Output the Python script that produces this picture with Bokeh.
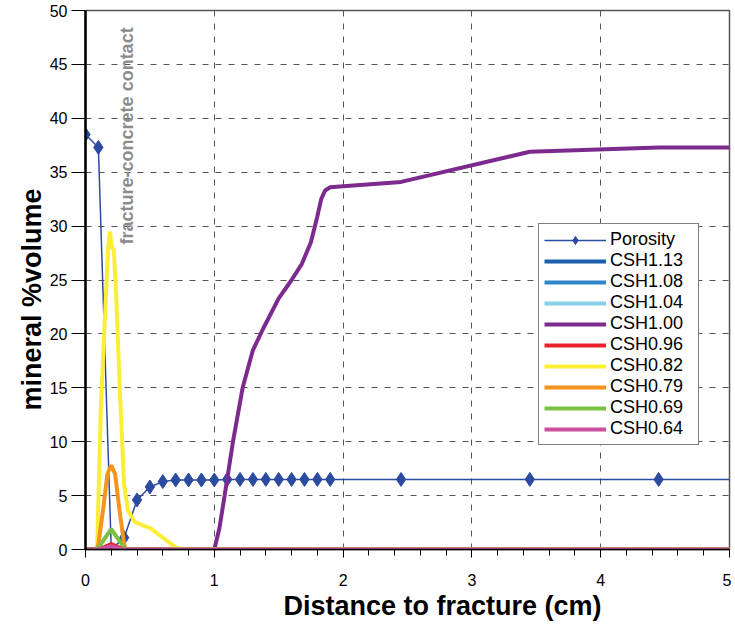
from bokeh.plotting import figure
from bokeh.models import Range1d, Legend, LegendItem, FixedTicker, Label, Title
from bokeh.embed import file_html
from bokeh.resources import INLINE

FONT = "Liberation Sans"

# ---------------- data ----------------
x_ticks = [0, 1, 2, 3, 4, 5]
y_ticks = [0, 5, 10, 15, 20, 25, 30, 35, 40, 45, 50]

por_x = [0, 0.1, 0.2, 0.3, 0.4, 0.5, 0.6, 0.7, 0.8, 0.9, 1.0, 1.1, 1.2, 1.3,
         1.4, 1.5, 1.6, 1.7, 1.8, 1.9, 2.45, 3.45, 4.45, 5.0]
por_y = [38.5, 37.3, 0.0, 1.1, 4.6, 5.8, 6.3, 6.45, 6.45, 6.45, 6.45, 6.5, 6.5, 6.5,
         6.5, 6.5, 6.5, 6.5, 6.5, 6.5, 6.5, 6.5, 6.5, 6.5]

zero_x = [0, 5]
zero_y = [0, 0]

csh100_x = [0, 0.9, 0.98, 1.0, 1.04, 1.08, 1.145, 1.22, 1.3, 1.38, 1.5, 1.6, 1.68,
            1.75, 1.8, 1.83, 1.86, 1.9, 2.0, 2.45, 3.45, 4.45, 5.0]
csh100_y = [0, 0, -0.4, 0, 2.0, 5.0, 10.0, 15.0, 18.5, 20.5, 23.3, 25.0, 26.5,
            28.5, 30.9, 32.5, 33.3, 33.6, 33.7, 34.1, 36.9, 37.3, 37.3]

csh096_x = [0, 0.1, 0.2, 0.3, 5]
csh096_y = [0, 0, 0.5, 0, 0]

csh082_x = [0, 0.05, 0.09, 0.12, 0.175, 0.19, 0.205, 0.22, 0.24, 0.27, 0.3, 0.33,
            0.38, 0.45, 0.5, 0.6, 0.7, 0.75, 5]
csh082_y = [0, -0.3, 0, 13.5, 27.8, 29.5, 28.0, 27.8, 23.0, 13.8, 6.0, 3.6,
            2.6, 2.2, 2.0, 1.1, 0.2, 0, 0]

csh079_x = [0, 0.05, 0.08, 0.1, 0.14, 0.17, 0.2, 0.23, 0.26, 0.3, 0.32, 0.36, 5]
csh079_y = [0, 0, -0.3, 0.5, 4.0, 7.0, 7.8, 7.0, 4.0, 0.5, -0.3, 0, 0]

csh069_x = [0, 0.09, 0.2, 0.31, 5]
csh069_y = [0, 0, 1.9, 0, 0]

csh064_x = [0, 0.1, 0.2, 0.3, 5]
csh064_y = [0, 0, 0.3, 0, 0]

series = [
    ("CSH1.13", zero_x, zero_y, "#1B5EAB"),
    ("CSH1.08", zero_x, zero_y, "#2E86C8"),
    ("CSH1.04", zero_x, zero_y, "#86D0E8"),
    ("CSH1.00", csh100_x, csh100_y, "#7D2A8F"),
    ("CSH0.96", csh096_x, csh096_y, "#E8212B"),
    ("CSH0.82", csh082_x, csh082_y, "#FAEF36"),
    ("CSH0.79", csh079_x, csh079_y, "#F7941D"),
    ("CSH0.69", csh069_x, csh069_y, "#7AC143"),
    ("CSH0.64", csh064_x, csh064_y, "#C9519D"),
]

# ---------------- figure ----------------
p = figure(width=731, height=622, x_range=Range1d(0, 5), y_range=Range1d(0, 50),
           output_backend="svg", toolbar_location=None,
           min_border_left=85, min_border_right=2, min_border_top=10,
           min_border_bottom=73)
p.background_fill_color = "white"
p.border_fill_color = "white"
p.outline_line_color = "#555555"
p.outline_line_width = 1.5

# grid
p.xgrid.ticker = FixedTicker(ticks=x_ticks)
p.ygrid.ticker = FixedTicker(ticks=y_ticks)
for g in (p.xgrid, p.ygrid):
    g.grid_line_color = "#555555"
    g.grid_line_dash = "6 7"
    g.grid_line_width = 1

# axes
p.xaxis.ticker = FixedTicker(ticks=x_ticks, minor_ticks=[i * 0.2 for i in range(26)])
p.yaxis.ticker = FixedTicker(ticks=y_ticks)
for ax in (p.xaxis, p.yaxis):
    ax.axis_line_color = "black"
    ax.major_tick_line_color = "black"
    ax.minor_tick_line_color = "black"
    ax.major_tick_in = 0
    ax.minor_tick_in = 0
    ax.major_label_text_font = FONT
    ax.major_label_text_font_size = "16px"
    ax.major_label_text_color = "black"
p.yaxis.axis_line_width = 2.5
p.xaxis.axis_line_width = 1.5
p.xaxis.major_tick_out = 8
p.xaxis.minor_tick_out = 6
p.xaxis.major_label_standoff = 16
p.yaxis.major_tick_out = 14
p.yaxis.minor_tick_out = 0
p.yaxis.minor_tick_line_color = None
p.yaxis.major_label_standoff = 4

# porosity
r_por_line = p.line(por_x, por_y, line_color="#2B4BA0", line_width=1.5)
r_por_mark = p.scatter(por_x[:-1], por_y[:-1], marker="diamond", size=14,
                       fill_color="#2B4BA0", line_color="#2B4BA0")

items = [LegendItem(label="Porosity", renderers=[r_por_line, r_por_mark])]
for name, xs, ys, col in series:
    r = p.line(xs, ys, line_color=col, line_width=4)
    items.append(LegendItem(label=name, renderers=[r]))

legend = Legend(items=items, location=(453, 104))
legend.label_text_font = FONT
legend.label_text_font_size = "18px"
legend.label_text_color = "black"
legend.glyph_width = 62
legend.glyph_height = 20
legend.label_height = 20
legend.label_width = 83
legend.label_standoff = 4
legend.spacing = 0
legend.padding = 5
legend.margin = 0
legend.border_line_color = "black"
legend.border_line_width = 1
legend.background_fill_color = "white"
legend.background_fill_alpha = 1
p.add_layout(legend, "center")

# annotation
p.add_layout(Label(x=0.325, y=28.3, text="fracture-concrete contact", angle=1.5708,
                   text_font=FONT, text_font_size="18px", text_font_style="bold",
                   text_color="#8C8C8C", text_align="left", text_baseline="alphabetic"))

# axis titles
p.add_layout(Title(text="Distance to fracture (cm)", align="left", offset=198,
                   standoff=0, text_font=FONT, text_font_size="27px",
                   text_font_style="bold", text_color="black"), "below")
p.add_layout(Title(text="mineral %volume", align="left", offset=139,
                   standoff=0, text_font=FONT, text_font_size="27px",
                   text_font_style="bold", text_color="black"), "left")

open("out.html", "w").write(file_html(p, INLINE))
